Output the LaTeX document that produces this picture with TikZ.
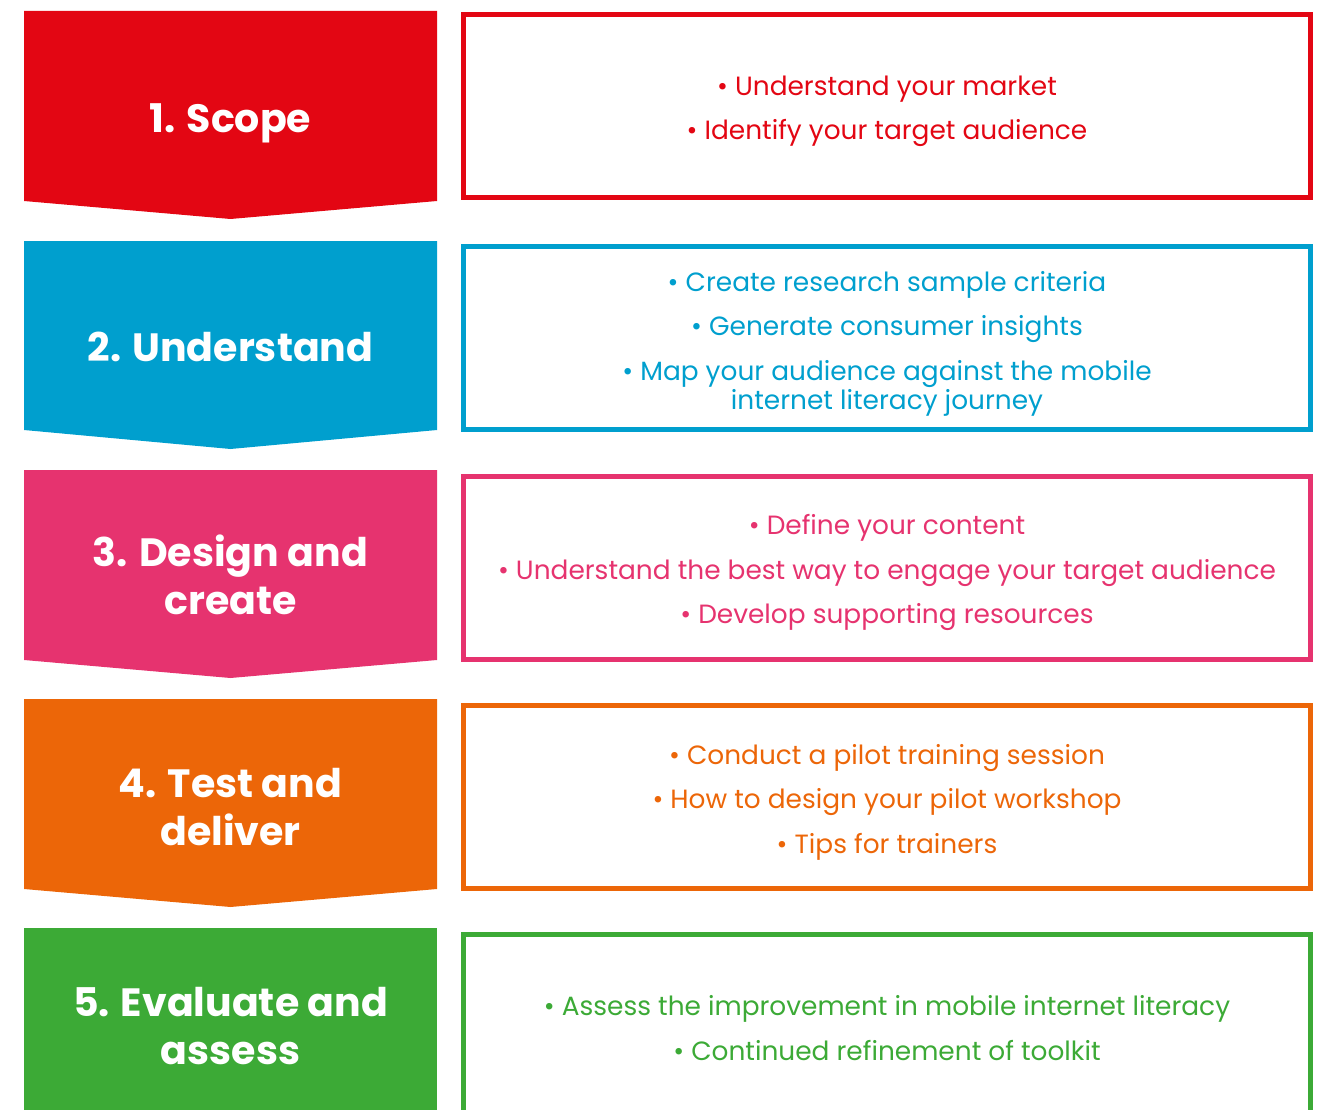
\documentclass[tikz,border=0pt]{standalone}
\usepackage{fontspec}
\setmainfont{Poppins}

\definecolor{scopered}{HTML}{E30613}
\definecolor{underblue}{HTML}{009FCE}
\definecolor{designpink}{HTML}{E6336F}
\definecolor{testorange}{HTML}{EC6608}
\definecolor{evalgreen}{HTML}{3CAA36}

\tikzset{
  steptitle/.style={text=white,font=\bfseries\fontsize{39.5}{48}\selectfont,align=center,inner sep=0pt},
  pointbox/.style={draw=#1,line width=5pt,minimum width=847pt,minimum height=183pt,inner sep=0pt},
  pointtext/.style={text=#1,align=center,inner sep=0pt,font=\fontsize{26.4}{29}\selectfont}
}

\begin{document}
\begin{tikzpicture}[x=1pt,y=-1pt]
		\useasboundingbox (0,0) rectangle (1325,1110);
		\clip (0,0) rectangle (1325,1110);
		% step 1
		\fill[scopered] (24,11) -- (437,11) -- (437,201) -- (230.5,219) -- (24,201) -- cycle;
		\node[steptitle] (scope) at (230.5,123) {1. Scope};
		\node[pointbox=scopered] (scopebox) at (887,106.5) {};
		\node[pointtext=scopered] (scopetext) at (887,111.5) {• Understand your market\\[15.5pt] • Identify your target audience};
		% step 2
		\fill[underblue] (24,241) -- (437,241) -- (437,430) -- (230.5,449) -- (24,430) -- cycle;
		\node[steptitle] (understand) at (230.5,347) {2. Understand};
		\node[pointbox=underblue] (understandbox) at (887,337.5) {};
		\node[pointtext=underblue] (understandtext) at (887,343.5) {• Create research sample criteria\\[15.5pt] • Generate consumer insights\\[15.5pt] • Map your audience against the mobile\\ internet literacy journey};
		% step 3
		\fill[designpink] (24,470) -- (437,470) -- (437,660) -- (230.5,678) -- (24,660) -- cycle;
		\node[steptitle] (design) at (230.5,575) {3. Design and\\ create};
		\node[pointbox=designpink] (designbox) at (887,567.5) {};
		\node[pointtext=designpink] (designtext) at (887,572.5) {• Define your content\\[15.5pt] • Understand the best way to engage your target audience\\[15.5pt] • Develop supporting resources};
		% step 4
		\fill[testorange] (24,699) -- (437,699) -- (437,889) -- (230.5,907) -- (24,889) -- cycle;
		\node[steptitle] (test) at (230.5,807) {4. Test and\\ deliver};
		\node[pointbox=testorange] (testbox) at (887,796.5) {};
		\node[pointtext=testorange] (testtext) at (887,802) {• Conduct a pilot training session\\[15.5pt] • How to design your pilot workshop\\[15.5pt] • Tips for trainers};
		% step 5 (runs off the page)
		\fill[evalgreen] (24,928) -- (437,928) -- (437,1130) -- (24,1130) -- cycle;
		\node[steptitle] (evaluate) at (230.5,1026) {5. Evaluate and\\ assess};
		\draw[evalgreen,line width=5pt] (463.5,1130) -- (463.5,934.5) -- (1310.5,934.5) -- (1310.5,1130);
		\node[pointtext=evalgreen] (evaluatetext) at (887,1028) {• Assess the improvement in mobile internet literacy\\[15.5pt] • Continued refinement of toolkit};
\end{tikzpicture}
\end{document}
